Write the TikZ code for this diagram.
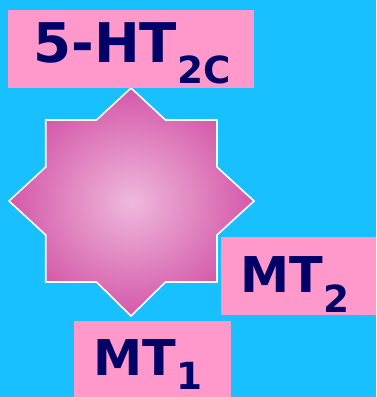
\documentclass[tikz,border=0pt]{standalone}
\usepackage{fontspec}
\setmainfont{DejaVu Sans}
\usepackage{tikz}
\usetikzlibrary{positioning,shadings}

\definecolor{skycyan}{RGB}{24,192,255}
\definecolor{boxpink}{RGB}{255,153,204}
\definecolor{navytext}{RGB}{0,0,102}
\definecolor{starrim}{RGB}{212,88,168}
\definecolor{starcore}{RGB}{239,184,220}

\newcommand{\lowsub}[2]{\raisebox{#1}{\fontsize{28pt}{28pt}\selectfont #2}}

\begin{document}
\begin{tikzpicture}[
    x=0.75pt, y=-0.75pt,
    box/.style={rectangle, fill=boxpink, anchor=north west, inner sep=0pt},
    rtext/.style={anchor=base west, inner sep=0pt, text=navytext, font=\bfseries\fontsize{#1}{#1}\selectfont},
    starface/.style={draw=white, line width=1.2pt, inner color=starcore, outer color=starrim}
]
    % background
    \fill[skycyan] (0,0) rectangle (376,397);
    \useasboundingbox (0,0) rectangle (376,397);

    % star
    \path[starface] (131,88) -- (165.5,120) -- (217,120) -- (217,167) -- (254,201)
        -- (217,235) -- (217,282) -- (165.5,282) -- (131,316) -- (96.5,282)
        -- (45.7,282) -- (45.7,235) -- (9,201) -- (45.7,167) -- (45.7,120)
        -- (96.5,120) -- cycle;

    % receptor boxes
    \node[box, minimum width=184.5pt, minimum height=58.5pt] (htbox) at (8,10) {};
    \node[box, minimum width=116.25pt, minimum height=58.5pt] (mttwobox) at (221,237) {};
    \node[box, minimum width=117.75pt, minimum height=57pt] (mtonebox) at (74,321) {};

    \node[rtext=41pt] (httext) at (33,62) {5-HT\lowsub{-15.75pt}{2C}};
    \node[rtext=37pt] (mttwotext) at (240,292) {MT\lowsub{-15pt}{2}};
    \node[rtext=37pt] (mtonetext) at (93,375) {MT\lowsub{-11pt}{1}};
\end{tikzpicture}
\end{document}
